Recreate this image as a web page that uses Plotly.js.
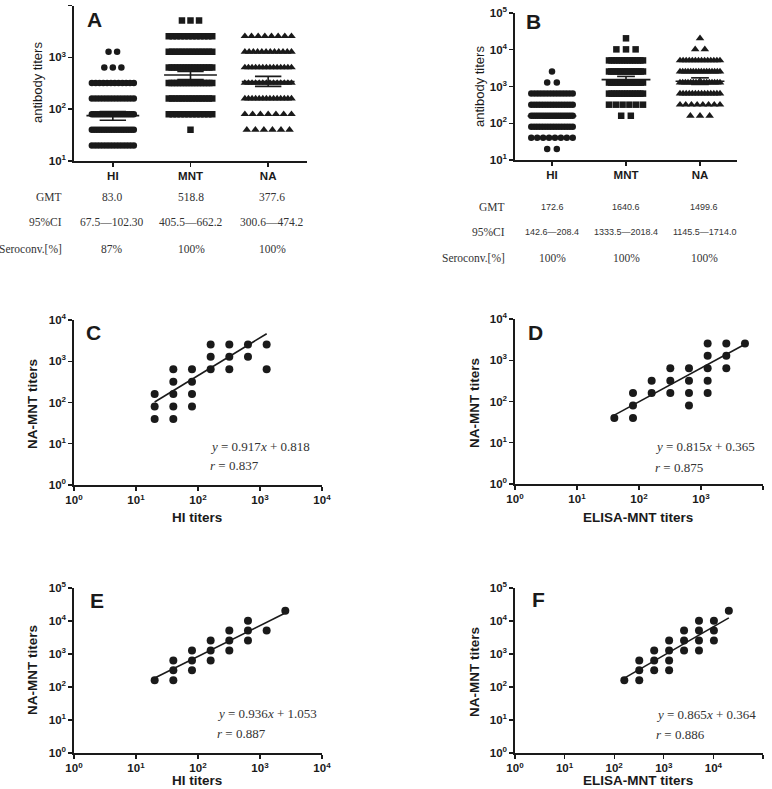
<!DOCTYPE html>
<html>
<head>
<meta charset="utf-8">
<script src="https://cdn.plot.ly/plotly-3.0.1.min.js"></script>
<style>html,body{margin:0;padding:0;background:#fff;}#chart{width:772px;height:789px;}</style>
</head>
<body>
<div id="chart"></div>
<script>
// ---------------- DATA ----------------
const categories = ['HI', 'MNT', 'NA'];

// Panel A: titer levels and number of subjects at each level
const titerLevelsA = [20, 40, 80, 160, 320, 640, 1280, 2560, 5120];
const countsA_HI  = [14, 18, 22, 14, 12, 3, 2, 0, 0];
const countsA_MNT = [0, 1, 12, 14, 16, 16, 14, 12, 3];
const countsA_NA  = [0, 6, 7, 14, 14, 14, 12, 8, 0];
const meanA = [75, 457, 340];
const lowA  = [61, 372, 275];
const highA = [90, 537, 430];

// Panel B
const titerLevelsB = [20, 40, 80, 160, 320, 640, 1280, 2560, 5120, 10240, 20480];
const countsB_HI  = [2, 8, 16, 20, 16, 14, 2, 1, 0, 0, 0];
const countsB_MNT = [0, 0, 0, 2, 6, 14, 16, 16, 14, 3, 1];
const countsB_NA  = [0, 0, 0, 3, 8, 14, 16, 16, 14, 2, 1];
const meanB = [158, 1540, 1390];
const lowB  = [140, 1280, 1140];
const highB = [180, 1880, 1720];

// Tables under A and B
const tableRowLabels = ['GMT', '95%CI', 'Seroconv.[%]'];
const gmtA  = ['83.0', '518.8', '377.6'];
const ciA   = ['67.5\u2014102.30', '405.5\u2014662.2', '300.6\u2014474.2'];
const seroA = ['87%', '100%', '100%'];
const gmtB  = ['172.6', '1640.6', '1499.6'];
const ciB   = ['142.6\u2014208.4', '1333.5\u20142018.4', '1145.5\u20141714.0'];
const seroB = ['100%', '100%', '100%'];

// Panel C: HI vs NA-MNT
const xC = [20,20,20, 40,40,40,40,40, 80,80,80,80, 160,160,160, 320,320,320, 640,640, 1280,1280];
const yC = [160,80,40, 640,320,160,80,40, 640,320,160,80, 2560,1280,640, 2560,1280,640, 2560,1280, 2560,640];
const slopeC = 0.917, interceptC = 0.818, rC = 0.837;

// Panel D: ELISA-MNT vs NA-MNT
const xD = [40, 80,80,80, 160,160, 320,320,320, 640,640,640,640, 1280,1280,1280,1280,1280, 2560,2560,2560, 5120];
const yD = [40, 160,80,40, 320,160, 640,320,160, 640,320,160,80, 2560,1280,640,320,160, 2560,1280,640, 2560];
const slopeD = 0.815, interceptD = 0.365, rD = 0.875;

// Panel E: HI vs NA-MNT
const xE = [20, 40,40,40, 80,80,80, 160,160,160, 320,320,320, 640,640,640, 1280, 2560];
const yE = [160, 640,320,160, 1280,640,320, 2560,1280,640, 5120,2560,1280, 10240,5120,2560, 5120, 20480];
const slopeE = 0.936, interceptE = 1.053, rE = 0.887;

// Panel F: ELISA-MNT vs NA-MNT
const xF = [160, 320,320,320, 640,640,640, 1280,1280,1280,1280, 2560,2560,2560, 5120,5120,5120,5120, 10240,10240,10240, 20480];
const yF = [160, 640,320,160, 1280,640,320, 2560,1280,640,320, 5120,2560,1280, 10240,5120,2560,1280, 10240,5120,2560, 20480];
const slopeF = 0.865, interceptF = 0.364, rF = 0.886;

// ---------------- HELPERS ----------------
const W = 772, H = 789;
const px = x => x / W;
const py = y => 1 - y / H;
const INK = '#1a1a1a';
const TXT = '#333333';

function dotStrip(levels, counts, catIndex, hw, maxSpacing) {
  const xs = [], ys = [];
  levels.forEach((lv, k) => {
    const n = counts[k];
    if (!n) return;
    const s = n > 1 ? Math.min(maxSpacing, 2 * hw / (n - 1)) : 0;
    for (let i = 0; i < n; i++) {
      xs.push(catIndex + (i - (n - 1) / 2) * s);
      ys.push(lv);
    }
  });
  return {xs, ys};
}

function meanBars(mean, low, high, lineHw, capHw) {
  const xs = [], ys = [];
  mean.forEach((m, i) => {
    xs.push(i - lineHw, i + lineHw, null); ys.push(m, m, null);
    xs.push(i, i, null); ys.push(low[i], high[i], null);
    xs.push(i - capHw, i + capHw, null); ys.push(low[i], low[i], null);
    xs.push(i - capHw, i + capHw, null); ys.push(high[i], high[i], null);
  });
  return {xs, ys};
}

const symbols = ['circle', 'square', 'triangle-up'];
const symSizes = [6.5, 6.5, 7.5];
const traces = [];

// Panel A strips
[countsA_HI, countsA_MNT, countsA_NA].forEach((c, i) => {
  const d = dotStrip(titerLevelsA, c, i, [0.27, 0.28, 0.30][i], 0.11);
  traces.push({x: d.xs, y: d.ys, xaxis: 'x', yaxis: 'y', mode: 'markers', type: 'scatter',
    marker: {symbol: symbols[i], size: symSizes[i], color: INK}, hoverinfo: 'skip'});
});
{
  const m = meanBars(meanA, lowA, highA, 0.34, 0.17);
  traces.push({x: m.xs, y: m.ys, xaxis: 'x', yaxis: 'y', mode: 'lines', type: 'scatter',
    line: {color: INK, width: 1.6}, hoverinfo: 'skip'});
}
// Panel B strips
[countsB_HI, countsB_MNT, countsB_NA].forEach((c, i) => {
  const d = dotStrip(titerLevelsB, c, i, [0.28, 0.23, 0.27][i], 0.13);
  traces.push({x: d.xs, y: d.ys, xaxis: 'x2', yaxis: 'y2', mode: 'markers', type: 'scatter',
    marker: {symbol: symbols[i], size: symSizes[i], color: INK}, hoverinfo: 'skip'});
});
{
  const m = meanBars(meanB, lowB, highB, 0.33, 0.12);
  traces.push({x: m.xs, y: m.ys, xaxis: 'x2', yaxis: 'y2', mode: 'lines', type: 'scatter',
    line: {color: INK, width: 1.6}, hoverinfo: 'skip'});
}

// Correlation panels
const corr = [
  {x: xC, y: yC, a: slopeC, b: interceptC, r: rC, ax: '3'},
  {x: xD, y: yD, a: slopeD, b: interceptD, r: rD, ax: '4'},
  {x: xE, y: yE, a: slopeE, b: interceptE, r: rE, ax: '5'},
  {x: xF, y: yF, a: slopeF, b: interceptF, r: rF, ax: '6'}
];
corr.forEach(p => {
  traces.push({x: p.x, y: p.y, xaxis: 'x' + p.ax, yaxis: 'y' + p.ax, mode: 'markers', type: 'scatter',
    marker: {symbol: 'circle', size: 8, color: INK}, hoverinfo: 'skip'});
  const x0 = Math.min(...p.x), x1 = Math.max(...p.x);
  const lx = [x0, x1];
  const ly = lx.map(v => Math.pow(10, p.a * Math.log10(v) + p.b));
  traces.push({x: lx, y: ly, xaxis: 'x' + p.ax, yaxis: 'y' + p.ax, mode: 'lines', type: 'scatter',
    line: {color: INK, width: 1.6}, hoverinfo: 'skip'});
});

// ---------------- AXES ----------------
const tickFont = {family: 'Liberation Sans, Arial, sans-serif', size: 11.5, color: INK, weight: 'bold'};
function pow10Ticks(maxExp, minExp) {
  const vals = [], txt = [];
  for (let e = minExp; e <= maxExp; e++) { vals.push(Math.pow(10, e)); txt.push('10<sup>' + e + '</sup>'); }
  return {vals, txt};
}
function logAxis(domain, anchor, minExp, maxExp) {
  const t = pow10Ticks(maxExp, minExp);
  return {type: 'log', domain: domain, anchor: anchor, range: [minExp, maxExp],
    tickvals: t.vals, ticktext: t.txt, ticks: 'outside', ticklen: 4, tickwidth: 1.4, tickcolor: INK,
    showline: true, linecolor: INK, linewidth: 1.6, showgrid: false, zeroline: false,
    tickfont: tickFont, fixedrange: true};
}
function catAxis(domain, anchor) {
  return {type: 'linear', domain: domain, anchor: anchor, range: [-0.5, 2.5],
    tickvals: [0, 1, 2], ticktext: categories, ticks: 'outside', ticklen: 4, tickwidth: 1.4, tickcolor: INK,
    showline: true, linecolor: INK, linewidth: 1.6, showgrid: false, zeroline: false,
    tickfont: tickFont, fixedrange: true};
}

const layout = {
  width: W, height: H,
  margin: {l: 0, r: 0, t: 0, b: 0},
  paper_bgcolor: '#ffffff', plot_bgcolor: 'rgba(0,0,0,0)',
  showlegend: false,
  xaxis:  catAxis([px(74), px(307)], 'y'),
  yaxis:  logAxis([py(161), py(5.5)], 'x', 1, 4),
  xaxis2: catAxis([px(515), px(737)], 'y2'),
  yaxis2: logAxis([py(160), py(13)], 'x2', 1, 5),
  xaxis3: logAxis([px(74), px(322)], 'y3', 0, 4),
  yaxis3: logAxis([py(485), py(320)], 'x3', 0, 4),
  xaxis4: logAxis([px(515), px(763)], 'y4', 0, 4),
  yaxis4: logAxis([py(484), py(319)], 'x4', 0, 4),
  xaxis5: logAxis([px(74), px(322)], 'y5', 0, 4),
  yaxis5: logAxis([py(753), py(588)], 'x5', 0, 5),
  xaxis6: logAxis([px(515), px(763)], 'y6', 0, 5),
  yaxis6: logAxis([py(753), py(588)], 'x6', 0, 5),
  annotations: []
};

const ann = layout.annotations;
function addText(text, x, y, font, opts) {
  ann.push(Object.assign({text: text, x: px(x), y: py(y), xref: 'paper', yref: 'paper',
    showarrow: false, xanchor: 'center', yanchor: 'middle', font: font}, opts || {}));
}
const letterFont = {family: 'Liberation Sans, Arial, sans-serif', size: 21, color: INK, weight: 'bold'};
addText('A', 94, 20, letterFont);
addText('B', 533, 21, letterFont);
addText('C', 93, 333, letterFont);
addText('D', 535, 332, letterFont);
addText('E', 97, 600, letterFont);
addText('F', 538, 599, letterFont);

const ytFont = {family: 'Liberation Sans, Arial, sans-serif', size: 13, color: INK};
addText('antibody titers', 38, 83, ytFont, {textangle: -90});
addText('antibody titers', 480, 87, ytFont, {textangle: -90});

const boldTitle = {family: 'Liberation Sans, Arial, sans-serif', size: 13.5, color: INK, weight: 'bold'};
addText('NA-MNT titers', 32, 404, boldTitle, {textangle: -90});
addText('NA-MNT titers', 475, 403, boldTitle, {textangle: -90});
addText('NA-MNT titers', 32, 670, boldTitle, {textangle: -90});
addText('NA-MNT titers', 474, 672, boldTitle, {textangle: -90});
addText('HI titers', 197, 517, boldTitle);
addText('ELISA-MNT titers', 638, 517, boldTitle);
addText('HI titers', 197, 780, boldTitle);
addText('ELISA-MNT titers', 638, 780, boldTitle);

// Tables
const serif = {family: 'Liberation Serif, Times New Roman, serif', size: 11.5, color: TXT};
const sansSmall = {family: 'Liberation Sans, Arial, sans-serif', size: 9, color: TXT};
const rowsA = [gmtA, ciA, seroA];
const rowYA = [197, 222, 249];
const colXA = [112, 191, 272];
rowsA.forEach((row, r) => {
  addText(tableRowLabels[r], 64, rowYA[r], serif, {xanchor: 'right'});
  row.forEach((v, c) => addText(v, colXA[c], rowYA[r], serif));
});
const rowsB = [gmtB, ciB, seroB];
const rowYB = [207, 232, 258];
const colXB = [552, 626, 704];
rowsB.forEach((row, r) => {
  addText(tableRowLabels[r], 507, rowYB[r], serif, {xanchor: 'right'});
  row.forEach((v, c) => addText(v, colXB[c], rowYB[r], r === 2 ? serif : sansSmall));
});

// Regression equations
const eqFont = {family: 'Liberation Serif, Times New Roman, serif', size: 13, color: TXT};
const eqPos = [[208, 446, 465], [653, 447, 467], [215, 713, 733], [654, 714, 734]];
corr.forEach((p, i) => {
  const [ex, ey, ry] = eqPos[i];
  addText('<i>y</i> = ' + p.a.toFixed(3) + '<i>x</i> + ' + p.b.toFixed(3), ex, ey, eqFont, {xanchor: 'left'});
  addText('<i>r</i> = ' + p.r.toFixed(3), ex, ry, eqFont, {xanchor: 'left'});
});

Plotly.newPlot('chart', traces, layout, {displayModeBar: false, staticPlot: true});
</script>
</body>
</html>
